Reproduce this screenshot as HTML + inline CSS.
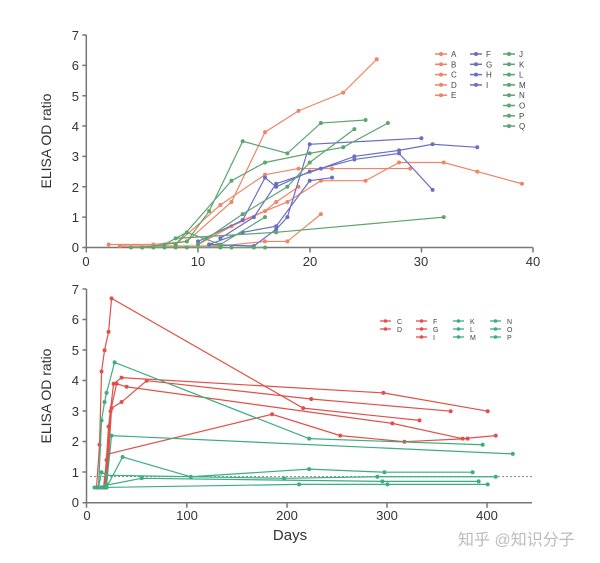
<!DOCTYPE html>
<html><head><meta charset="utf-8"><style>
body{margin:0;background:#fff;width:600px;height:563px;overflow:hidden}
svg{display:block;font-family:"Liberation Sans",sans-serif}
</style></head><body>
<svg id="s" width="600" height="563" viewBox="0 0 600 563" xmlns="http://www.w3.org/2000/svg">
<rect width="600" height="563" fill="#fff"/>
<g stroke="#777" stroke-width="1.5" fill="none">
<path d="M86.3 35 V247.5 H533"/>
<path d="M86.3 247.5 v5 M198 247.5 v5 M310 247.5 v5 M421.5 247.5 v5 M533 247.5 v5"/>
<path d="M86.3 35 h-4 M86.3 65.4 h-4 M86.3 95.7 h-4 M86.3 126 h-4 M86.3 156.4 h-4 M86.3 186.7 h-4 M86.3 217.1 h-4 M86.3 247.5 h-4"/>
<path d="M86.5 289 V502.7 H532"/>
<path d="M86.5 502.7 v5 M186.8 502.7 v5 M287 502.7 v5 M387 502.7 v5 M487 502.7 v5"/>
<path d="M86.5 289 h-4 M86.5 319.5 h-4 M86.5 350 h-4 M86.5 380.5 h-4 M86.5 411 h-4 M86.5 441.5 h-4 M86.5 472 h-4 M86.5 502.7 h-4"/>
</g>
<g font-size="13" fill="#333" text-anchor="end">
<text x="79" y="40">7</text><text x="79" y="70">6</text><text x="79" y="101">5</text><text x="79" y="131">4</text><text x="79" y="161">3</text><text x="79" y="192">2</text><text x="79" y="222">1</text><text x="79" y="252">0</text>
<text x="79" y="294">7</text><text x="79" y="324">6</text><text x="79" y="355">5</text><text x="79" y="385">4</text><text x="79" y="416">3</text><text x="79" y="446">2</text><text x="79" y="477">1</text><text x="79" y="507">0</text>
</g>
<g font-size="13" fill="#333" text-anchor="middle">
<text x="86" y="266">0</text><text x="198" y="266">10</text><text x="310" y="266">20</text><text x="421" y="266">30</text><text x="533" y="266">40</text>
<text x="87" y="520">0</text><text x="187" y="520">100</text><text x="287" y="520">200</text><text x="387" y="520">300</text><text x="487" y="520">400</text>
<text x="290" y="540" font-size="15">Days</text>
<text transform="translate(51,141) rotate(-90)" font-size="14">ELISA OD ratio</text>
<text transform="translate(51,396) rotate(-90)" font-size="14">ELISA OD ratio</text>
</g>
<line x1="90" y1="476.6" x2="532" y2="476.6" stroke="#888" stroke-width="1" stroke-dasharray="2,2"/>
<text x="458" y="545" font-size="16" fill="#bbb" font-family="'Liberation Sans','Noto Sans CJK SC',sans-serif">知乎 @知识分子</text>
<g id="g"></g>
</svg>
<script>
const g=document.getElementById('g');let h='';
const T=(d,v)=>[86.3+d*11.17,247.5-v*30.36];
const B=(d,v)=>[86.5+d*1.003,502.7-v*30.5];
function ser(f,c,pts){const p=pts.map(q=>f(q[0],q[1]));
h+=`<polyline points="${p.map(a=>a.join(',')).join(' ')}" fill="none" stroke="${c}" stroke-width="1.2"/>`;
p.forEach(a=>h+=`<circle cx="${a[0]}" cy="${a[1]}" r="2" fill="${c}"/>`);}
const O='#f08468',U='#6a6ec4',G='#5da46e',R='#e05048',E='#3aad82';
ser(T,O,[[2,0.1],[6,0.1],[9,0.2],[13,1.5],[16,3.8],[19,4.5],[23,5.1],[26,6.2]]);
ser(T,O,[[8,0.1],[12,1.4],[16,2.4],[19,2.6],[22,2.6],[29,2.6]]);
ser(T,O,[[10,0.1],[14,0.9],[18,1.5],[21,2.2],[25,2.2],[28,2.8],[32,2.8],[35,2.5],[39,2.1]]);
ser(T,O,[[3,0.05],[12,0.05],[16,0.2],[18,0.2],[21,1.1]]);
ser(T,O,[[10,0.1],[13,0.7],[16,1.2],[17,1.5],[19,2.0]]);
ser(T,U,[[11,0.1],[15,0.05],[17,0.6],[18,1.0],[20,3.4],[30,3.6]]);
ser(T,U,[[10,0.2],[14,0.9],[16,2.3],[17,2.0],[20,2.5],[24,2.9],[28,3.1],[31,1.9]]);
ser(T,U,[[12,0.3],[15,1.0],[17,2.1],[21,2.6],[24,3.0],[28,3.2],[31,3.4],[35,3.3]]);
ser(T,U,[[11,0.1],[14,0.5],[17,0.7],[20,2.2],[22,2.3]]);
ser(T,G,[[5,0],[9,0.2],[11,1.2],[14,3.5],[18,3.1],[21,4.1],[25,4.2]]);
ser(T,G,[[8,0.1],[13,2.2],[16,2.8],[20,3.1],[23,3.3],[27,4.1]]);
ser(T,G,[[8,0.3],[17,0.5],[32,1.0]]);
ser(T,G,[[10,0.1],[14,1.1],[18,2.0],[20,2.8],[24,3.9]]);
ser(T,G,[[7,0.1],[9,0.5],[12,0.1],[16,1.0]]);
ser(T,G,[[4,0],[5,0],[6,0],[7,0],[8,0],[9,0],[12,0],[13,0],[15,0],[16,0]]);
const L=[['A',O],['B',O],['C',O],['D',O],['E',O]],L2=[['F',U],['G',U],['H',U],['I',U]],L3='JKLMNOPQ'.split('').map(x=>[x,G]);
[[L,435],[L2,470],[L3,503]].forEach(([arr,x])=>arr.forEach((e,i)=>{const y=54+i*10.3;h+=`<line x1="${x}" x2="${x+12}" y1="${y}" y2="${y}" stroke="${e[1]}" stroke-width="1.5"/><circle cx="${x+6}" cy="${y}" r="2" fill="${e[1]}"/><text x="${x+16}" y="${y+3}" font-size="8" fill="#444">${e[0]}</text>`}));
ser(B,R,[[10,0.5],[13,1.9],[15,4.3],[18,5.0],[22,5.6],[25,6.7],[216,3.1],[332,2.7]]);
ser(B,R,[[18,0.5],[22,2.5],[27,3.9],[35,4.1],[296,3.6],[400,3.0]]);
ser(B,R,[[20,0.5],[25,3.1],[35,3.3],[60,4.0],[224,3.4],[363,3.0]]);
ser(B,R,[[19,0.5],[24,3.0],[30,3.9],[40,3.8],[305,2.6],[375,2.1],[408,2.2]]);
ser(B,R,[[17,0.5],[20,1.4],[22,1.6],[185,2.9],[253,2.2],[317,2.0],[380,2.1]]);
ser(B,E,[[12,0.5],[15,2.7],[18,3.3],[20,3.6],[28,4.6],[222,2.1],[395,1.9]]);
ser(B,E,[[14,0.5],[20,0.6],[25,2.2],[425,1.6]]);
ser(B,E,[[15,0.5],[20,0.5],[36,1.5],[104,0.85],[222,1.1],[297,1.0],[385,1.0]]);
ser(B,E,[[12,0.5],[15,1.0],[20,0.9],[197,0.8],[290,0.85],[408,0.85]]);
ser(B,E,[[15,0.5],[212,0.6],[300,0.6],[400,0.6]]);
ser(B,E,[[8,0.5],[55,0.8],[295,0.7],[391,0.7]]);
const M=[[['C',R],['D',R]],[['F',R],['G',R],['I',R]],[['K',E],['L',E],['M',E]],[['N',E],['O',E],['P',E]]];
[380,416,453,490].forEach((x,j)=>M[j].forEach((e,i)=>{const y=321+i*8;h+=`<line x1="${x}" x2="${x+11}" y1="${y}" y2="${y}" stroke="${e[1]}" stroke-width="1.3"/><circle cx="${x+5.5}" cy="${y}" r="1.8" fill="${e[1]}"/><text x="${x+17}" y="${y+3}" font-size="7" fill="#444">${e[0]}</text>`}));
g.innerHTML=h;
</script>
</body></html>
